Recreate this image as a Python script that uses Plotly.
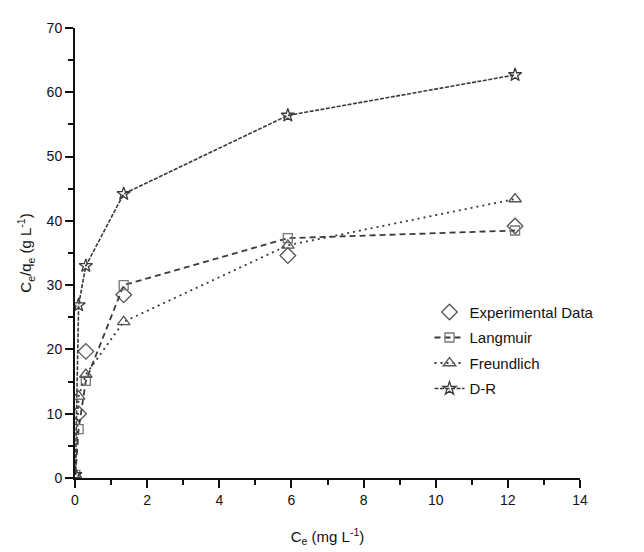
import plotly.graph_objects as go

# Data
ce = [0.1, 0.3, 1.35, 5.9, 12.2]
experimental = [10.0, 19.7, 28.5, 34.6, 39.2]
langmuir_x = [0.01, 0.1, 0.3, 1.35, 5.9, 12.2]
langmuir = [0.5, 7.6, 15.1, 30.0, 37.3, 38.5]
freundlich_x = [0.01, 0.1, 0.3, 1.35, 5.9, 12.2]
freundlich = [0.5, 12.7, 16.1, 24.3, 36.2, 43.4]
dr_x = [0.01, 0.1, 0.3, 1.35, 5.9, 12.2]
dr = [0.5, 26.9, 33.0, 44.2, 56.4, 62.7]

line_col = "#3a3a3a"
mk_col = "#555555"
font = "Liberation Sans, Arial, sans-serif"

fig = go.Figure()
fig.add_trace(go.Scatter(
    x=ce, y=experimental, mode="markers", name="Experimental Data", legendgroup="a",
    marker=dict(symbol="diamond-open", size=12, color=mk_col, line=dict(width=1.3, color=mk_col)),
))
fig.add_trace(go.Scatter(
    x=langmuir_x, y=langmuir, mode="lines+markers", name="Langmuir", legendgroup="b",
    line=dict(color=line_col, width=1.8, dash="6px,4px"),
    marker=dict(symbol="square-open", size=9, color="#777777", line=dict(width=1.3, color="#777777")),
))
fig.add_trace(go.Scatter(
    x=freundlich_x, y=freundlich, mode="lines+markers", name="Freundlich", legendgroup="c",
    line=dict(color=line_col, width=1.8, dash="2px,4px"),
    marker=dict(symbol="triangle-up-open", size=11, color=mk_col, line=dict(width=1.3, color=mk_col)),
))
fig.add_trace(go.Scatter(
    x=dr_x, y=dr, mode="lines+markers", name="D-R", legendgroup="d",
    line=dict(color=line_col, width=1.6, dash="4px,1.5px"),
    marker=dict(symbol="star-open", size=10, color=line_col, line=dict(width=1.3, color=line_col)),
))

axis_common = dict(
    showline=True, linecolor="#111111", linewidth=2,
    ticks="outside", tickcolor="#111111", tickwidth=2, ticklen=8,
    showgrid=False, zeroline=False, mirror=False,
    tickfont=dict(family=font, size=14, color="#111111"),
    minor=dict(ticks="outside", ticklen=5, tickwidth=2, tickcolor="#111111"),
)

fig.update_layout(
    width=644, height=552,
    margin=dict(l=67, r=72, t=13, b=82),
    paper_bgcolor="white", plot_bgcolor="white",
    font=dict(family=font, size=14, color="#111111"),
    xaxis=dict(range=[0, 14], dtick=2, tick0=0,
               title=dict(text="C<sub>e</sub> (mg L<sup>-1</sup>)", font=dict(size=15), standoff=25),
               **axis_common),
    yaxis=dict(range=[0, 70], dtick=10, tick0=0,
               title=dict(text="C<sub>e</sub>/q<sub>e</sub> (g L<sup>-1</sup>)", font=dict(size=15), standoff=11),
               **axis_common),
    legend=dict(x=0.702, y=0.405, xanchor="left", yanchor="top",
                font=dict(family=font, size=15, color="#111111"),
                bgcolor="rgba(0,0,0,0)", tracegroupgap=3, itemwidth=30),
    showlegend=True,
)
fig.update_xaxes(minor=dict(dtick=1))
fig.update_yaxes(minor=dict(dtick=5))

fig.write_html("out.html")
